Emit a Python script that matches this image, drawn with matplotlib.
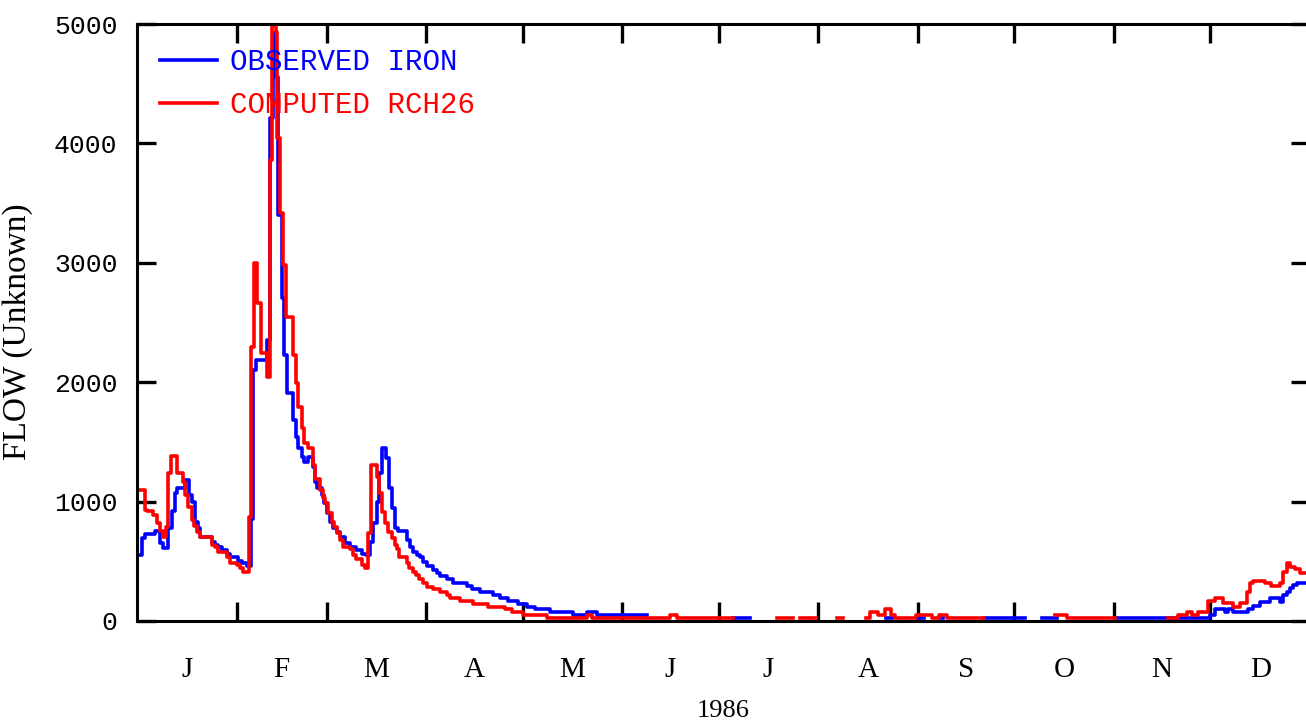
import numpy as np
import matplotlib
matplotlib.use("Agg")
import matplotlib.pyplot as plt

nan = np.nan

# calendar for 1986 (day-of-year of month starts)
month_starts = [0, 31, 59, 90, 120, 151, 181, 212, 243, 273, 304, 334, 365]
month_labels = ["J", "F", "M", "A", "M", "J", "J", "A", "S", "O", "N", "D"]
year_label = "1986"
y_ticks = [0, 1000, 2000, 3000, 4000, 5000]

# observed iron: step breakpoints (day of year, flow); nan = missing record
obs_day = [0, 1.5, 2.5, 5.6, 7.2, 8.2, 9.7, 10.8, 11.8, 12.5, 14.9, 16.3, 17.0, 18.0, 18.9,
           19.6, 23.2, 24.3, 25.3, 26.3, 27.9, 28.9, 31.5, 32.6, 34.1, 35.4, 36.2, 37.0,
           40.3, 41.3, 42.4, 43.2, 44.0, 45.0, 45.8, 46.6, 48.6, 49.4, 50.2, 51.2, 52.0,
           53.3, 54.7, 55.4, 56.1, 57.5, 58.2, 59.2, 60.0, 61.1, 62.1, 63.2, 64.7, 66.3,
           68.3, 69.9, 71.3, 72.5, 73.3, 74.6, 75.3, 76.1, 77.5, 78.5, 79.2, 80.3, 81.1,
           83.9, 84.9, 86.0, 87.0, 88.1, 89.1, 90.1, 92.2, 93.2, 94.3, 96.4, 98.4, 102.6,
           104.1, 106.7, 110.9, 112.9, 115.5, 118.6, 121.3, 123.8, 128.5, 135.7, 139.9,
           143.0, 158.6, 185.4, 190.8, 233.0, 235.0, 243.0, 245.0, 249.8, 250.9, 263.5,
           276.2, 281.6, 286.4, 305.0, 333.8, 335.4, 338.5, 339.6, 341.1, 345.8, 347.3,
           349.4, 352.5, 355.6, 356.7, 357.7, 358.7, 359.8, 360.8, 365]
obs_flow = [553, 698, 729, 756, 653, 611, 779, 921, 1072, 1114, 1181, 1055, 999, 832, 779,
            706, 664, 640, 622, 595, 560, 536, 505, 486, 461, 851, 2102, 2186,
            2353, 4213, 4924, 4556, 3400, 2705, 2228, 1909, 1683, 1541, 1449, 1374, 1332,
            1374, 1290, 1164, 1114, 1055, 988, 904, 829, 779, 745, 703, 653, 620,
            595, 561, 553, 662, 821, 997, 1237, 1449, 1365, 1114, 946, 779, 754,
            678, 620, 578, 553, 536, 494, 461, 427, 399, 377, 349, 321, 293,
            265, 243, 218, 190, 168, 142, 120, 98, 75, 50, 75,
            50, nan, 22, nan, 22, nan, 22, nan, 22, nan, 22,
            nan, 22, nan, 22, 50, 100, 78, 100, 78, 100, 126,
            162, 190, 162, 218, 246, 274, 302, 316, 316]

# computed RCH26
sim_day = [0, 2.5, 3.0, 5.1, 6.1, 7.2, 8.2, 9.0, 9.7, 10.5, 12.3, 14.4, 14.9, 16.0, 17.0,
           17.8, 18.6, 19.6, 23.2, 24.3, 25.3, 27.9, 28.9, 31.0, 32.0, 33.1, 34.8, 35.5,
           36.4, 37.2, 38.6, 40.3, 41.4, 41.9, 43.1, 43.6, 44.6, 45.5, 46.3, 48.6, 49.4,
           50.2, 51.2, 52.0, 53.3, 54.9, 55.4, 56.9, 57.8, 58.5, 59.5, 60.6, 61.3, 62.1,
           63.2, 64.2, 66.3, 67.3, 68.3, 69.9, 70.9, 72.0, 72.7, 74.6, 75.4, 76.3, 77.2,
           78.2, 79.2, 80.3, 81.0, 81.6, 83.9, 84.7, 85.8, 86.8, 87.8, 88.9, 90.1, 92.2,
           94.3, 96.4, 97.4, 100.5, 104.6, 109.3, 114.5, 116.6, 120.2, 127.5, 139.9, 141.5,
           165.8, 167.9, 185.4, 199.2, 204.0, 206.4, 208.8, 209.8, 211.3, 217.9, 219.7,
           226.9, 228.1, 230.5, 232.7, 234.7, 235.9, 242.5, 247.3, 249.5, 251.9, 263.6,
           285.8, 289.4, 304.4, 320.9, 324.0, 326.6, 328.2, 330.2, 333.3, 335.4, 338.0,
           341.1, 343.2, 345.3, 346.3, 347.3, 351.0, 353.0, 355.6, 356.7, 357.7, 358.8,
           360.3, 361.9, 365]
sim_flow = [1097, 930, 921, 888, 823, 756, 706, 790, 1239, 1382, 1239, 1167, 1055, 957, 846,
            796, 748, 701, 636, 620, 581, 539, 489, 469, 444, 413, 874, 2297,
            2998, 2663, 2244, 2046, 3861, 4991, 4935, 4045, 3417, 2981, 2546, 2228, 1993,
            1795, 1616, 1490, 1449, 1306, 1189, 1097, 1030, 988, 904, 829, 790, 737,
            678, 622, 603, 553, 519, 469, 444, 737, 1306, 1209, 1072, 915, 821,
            748, 695, 636, 603, 536, 486, 444, 413, 385, 352, 321, 288, 268,
            240, 218, 190, 168, 142, 120, 98, 75, 50, 22, 50, 22,
            50, 22, nan, 22, nan, 22, nan, 22, nan, 22, nan,
            22, 78, 50, 100, 50, 22, 50, 22, 50, 22, nan,
            50, 22, nan, 22, 50, 78, 50, 78, 168, 190, 148,
            120, 148, 246, 316, 338, 316, 293, 316, 413, 483, 455,
            433, 399, 399]

fig = plt.figure(figsize=(13.06, 7.21), dpi=100)
ax = fig.add_axes([137 / 1306, 100 / 721, 1173 / 1306, 597 / 721])

ax.step(obs_day, obs_flow, where="post", color="#0000ff", lw=2.6, label="OBSERVED IRON")
ax.step(sim_day, sim_flow, where="post", color="#ff0000", lw=2.6, label="COMPUTED RCH26")

ax.set_xlim(0, 365)
ax.set_ylim(0, 5000)

# month boundaries as ticks, letters centred in each month
ax.set_xticks(month_starts[1:-1])
ax.set_xticklabels([])
mids = [(a + b) / 2 for a, b in zip(month_starts[:-1], month_starts[1:])]
ax.set_xticks(mids, minor=True)
ax.set_xticklabels(month_labels, minor=True, family="Liberation Serif", fontsize=21)
ax.tick_params(axis="x", which="major", direction="in", length=13.5, width=2.4,
               top=True, bottom=True)
ax.tick_params(axis="x", which="minor", length=0, pad=26)

ax.set_yticks(y_ticks)
ax.set_yticklabels([str(v) for v in y_ticks], family="Liberation Mono", fontsize=19)
ax.tick_params(axis="y", direction="in", length=13.5, width=2.4, left=True, right=True, pad=14)

for spine in ax.spines.values():
    spine.set_linewidth(2.2)

ax.set_xlabel(year_label, family="Liberation Serif", fontsize=19, labelpad=12)
ax.set_ylabel("FLOW (Unknown)", family="Liberation Serif", fontsize=24)
ax.yaxis.set_label_coords(-0.0887, 0.484)

ax.legend(loc="upper left", bbox_to_anchor=(0.0196, 0.959), frameon=False,
          prop={"family": "Liberation Mono", "size": 21}, handlelength=1.95,
          handletextpad=0.45, labelspacing=0.5, borderpad=0, borderaxespad=0,
          labelcolor="linecolor")

fig.savefig("out.png", dpi=100)
